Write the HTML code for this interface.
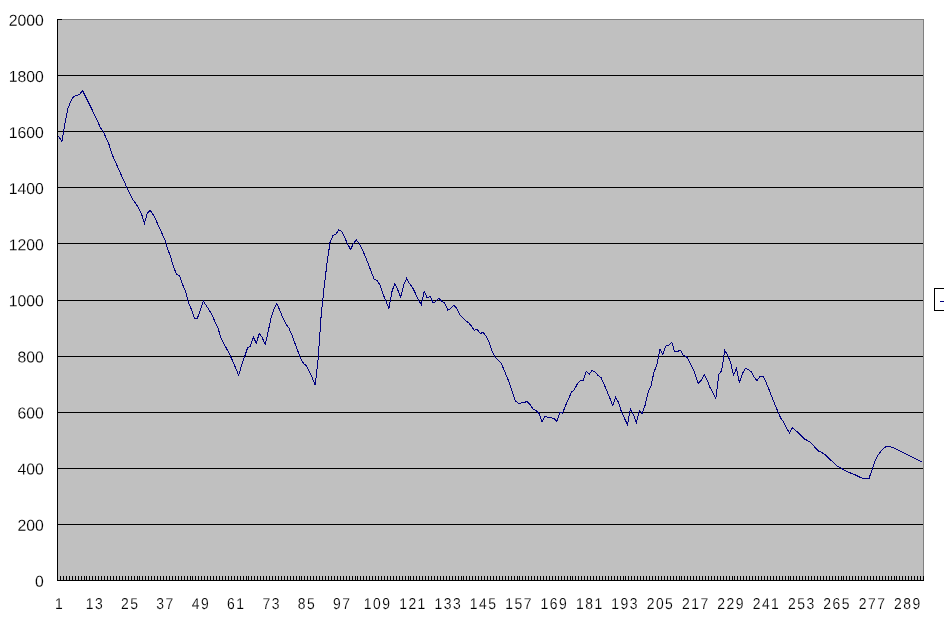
<!DOCTYPE html>
<html lang="ja"><head><meta charset="utf-8"><title>Chart</title>
<style>html,body{margin:0;padding:0;background:#fff;overflow:hidden}svg{display:block}text{font-family:"Liberation Sans", "IPAGothic", sans-serif;font-size:15.8px;fill:#000;stroke:#fff;stroke-width:0.15px}</style></head><body>
<svg width="944" height="622" viewBox="0 0 944 622">
<rect x="0" y="0" width="944" height="622" fill="#ffffff"/>
<g shape-rendering="crispEdges">
<rect x="57" y="19" width="867" height="562" fill="#c0c0c0"/>
<rect x="57" y="19" width="867" height="1" fill="#808080"/>
<rect x="923" y="19" width="1" height="562" fill="#808080"/>
<rect x="57" y="524" width="866" height="1" fill="#000"/>
<rect x="57" y="468" width="866" height="1" fill="#000"/>
<rect x="57" y="412" width="866" height="1" fill="#000"/>
<rect x="57" y="356" width="866" height="1" fill="#000"/>
<rect x="57" y="300" width="866" height="1" fill="#000"/>
<rect x="57" y="243" width="866" height="1" fill="#000"/>
<rect x="57" y="187" width="866" height="1" fill="#000"/>
<rect x="57" y="131" width="866" height="1" fill="#000"/>
<rect x="57" y="75" width="866" height="1" fill="#000"/>
<rect x="57" y="19" width="1" height="562" fill="#000"/>
<rect x="57" y="580" width="867" height="1" fill="#000"/>
<rect x="57" y="19" width="5" height="1" fill="#000"/>
<path d="M57 576h1v4h-1zM60 576h1v4h-1zM63 576h1v4h-1zM66 576h1v4h-1zM69 576h1v4h-1zM72 576h1v4h-1zM75 576h1v4h-1zM78 576h1v4h-1zM81 576h1v4h-1zM84 576h1v4h-1zM86 576h1v4h-1zM89 576h1v4h-1zM92 576h1v4h-1zM95 576h1v4h-1zM98 576h1v4h-1zM101 576h1v4h-1zM104 576h1v4h-1zM107 576h1v4h-1zM110 576h1v4h-1zM113 576h1v4h-1zM116 576h1v4h-1zM119 576h1v4h-1zM122 576h1v4h-1zM125 576h1v4h-1zM128 576h1v4h-1zM131 576h1v4h-1zM134 576h1v4h-1zM137 576h1v4h-1zM139 576h1v4h-1zM142 576h1v4h-1zM145 576h1v4h-1zM148 576h1v4h-1zM151 576h1v4h-1zM154 576h1v4h-1zM157 576h1v4h-1zM160 576h1v4h-1zM163 576h1v4h-1zM166 576h1v4h-1zM169 576h1v4h-1zM172 576h1v4h-1zM175 576h1v4h-1zM178 576h1v4h-1zM181 576h1v4h-1zM184 576h1v4h-1zM187 576h1v4h-1zM190 576h1v4h-1zM192 576h1v4h-1zM195 576h1v4h-1zM198 576h1v4h-1zM201 576h1v4h-1zM204 576h1v4h-1zM207 576h1v4h-1zM210 576h1v4h-1zM213 576h1v4h-1zM216 576h1v4h-1zM219 576h1v4h-1zM222 576h1v4h-1zM225 576h1v4h-1zM228 576h1v4h-1zM231 576h1v4h-1zM234 576h1v4h-1zM237 576h1v4h-1zM240 576h1v4h-1zM243 576h1v4h-1zM246 576h1v4h-1zM248 576h1v4h-1zM251 576h1v4h-1zM254 576h1v4h-1zM257 576h1v4h-1zM260 576h1v4h-1zM263 576h1v4h-1zM266 576h1v4h-1zM269 576h1v4h-1zM272 576h1v4h-1zM275 576h1v4h-1zM278 576h1v4h-1zM281 576h1v4h-1zM284 576h1v4h-1zM287 576h1v4h-1zM290 576h1v4h-1zM293 576h1v4h-1zM296 576h1v4h-1zM299 576h1v4h-1zM301 576h1v4h-1zM304 576h1v4h-1zM307 576h1v4h-1zM310 576h1v4h-1zM313 576h1v4h-1zM316 576h1v4h-1zM319 576h1v4h-1zM322 576h1v4h-1zM325 576h1v4h-1zM328 576h1v4h-1zM331 576h1v4h-1zM334 576h1v4h-1zM337 576h1v4h-1zM340 576h1v4h-1zM343 576h1v4h-1zM346 576h1v4h-1zM349 576h1v4h-1zM352 576h1v4h-1zM355 576h1v4h-1zM357 576h1v4h-1zM360 576h1v4h-1zM363 576h1v4h-1zM366 576h1v4h-1zM369 576h1v4h-1zM372 576h1v4h-1zM375 576h1v4h-1zM378 576h1v4h-1zM381 576h1v4h-1zM384 576h1v4h-1zM387 576h1v4h-1zM390 576h1v4h-1zM393 576h1v4h-1zM396 576h1v4h-1zM399 576h1v4h-1zM402 576h1v4h-1zM405 576h1v4h-1zM408 576h1v4h-1zM410 576h1v4h-1zM413 576h1v4h-1zM416 576h1v4h-1zM419 576h1v4h-1zM422 576h1v4h-1zM425 576h1v4h-1zM428 576h1v4h-1zM431 576h1v4h-1zM434 576h1v4h-1zM437 576h1v4h-1zM440 576h1v4h-1zM443 576h1v4h-1zM446 576h1v4h-1zM449 576h1v4h-1zM452 576h1v4h-1zM455 576h1v4h-1zM458 576h1v4h-1zM461 576h1v4h-1zM463 576h1v4h-1zM466 576h1v4h-1zM469 576h1v4h-1zM472 576h1v4h-1zM475 576h1v4h-1zM478 576h1v4h-1zM481 576h1v4h-1zM484 576h1v4h-1zM487 576h1v4h-1zM490 576h1v4h-1zM493 576h1v4h-1zM496 576h1v4h-1zM499 576h1v4h-1zM502 576h1v4h-1zM505 576h1v4h-1zM508 576h1v4h-1zM511 576h1v4h-1zM514 576h1v4h-1zM517 576h1v4h-1zM519 576h1v4h-1zM522 576h1v4h-1zM525 576h1v4h-1zM528 576h1v4h-1zM531 576h1v4h-1zM534 576h1v4h-1zM537 576h1v4h-1zM540 576h1v4h-1zM543 576h1v4h-1zM546 576h1v4h-1zM549 576h1v4h-1zM552 576h1v4h-1zM555 576h1v4h-1zM558 576h1v4h-1zM561 576h1v4h-1zM564 576h1v4h-1zM567 576h1v4h-1zM570 576h1v4h-1zM572 576h1v4h-1zM575 576h1v4h-1zM578 576h1v4h-1zM581 576h1v4h-1zM584 576h1v4h-1zM587 576h1v4h-1zM590 576h1v4h-1zM593 576h1v4h-1zM596 576h1v4h-1zM599 576h1v4h-1zM602 576h1v4h-1zM605 576h1v4h-1zM608 576h1v4h-1zM611 576h1v4h-1zM614 576h1v4h-1zM617 576h1v4h-1zM620 576h1v4h-1zM623 576h1v4h-1zM625 576h1v4h-1zM628 576h1v4h-1zM631 576h1v4h-1zM634 576h1v4h-1zM637 576h1v4h-1zM640 576h1v4h-1zM643 576h1v4h-1zM646 576h1v4h-1zM649 576h1v4h-1zM652 576h1v4h-1zM655 576h1v4h-1zM658 576h1v4h-1zM661 576h1v4h-1zM664 576h1v4h-1zM667 576h1v4h-1zM670 576h1v4h-1zM673 576h1v4h-1zM676 576h1v4h-1zM679 576h1v4h-1zM681 576h1v4h-1zM684 576h1v4h-1zM687 576h1v4h-1zM690 576h1v4h-1zM693 576h1v4h-1zM696 576h1v4h-1zM699 576h1v4h-1zM702 576h1v4h-1zM705 576h1v4h-1zM708 576h1v4h-1zM711 576h1v4h-1zM714 576h1v4h-1zM717 576h1v4h-1zM720 576h1v4h-1zM723 576h1v4h-1zM726 576h1v4h-1zM729 576h1v4h-1zM732 576h1v4h-1zM734 576h1v4h-1zM737 576h1v4h-1zM740 576h1v4h-1zM743 576h1v4h-1zM746 576h1v4h-1zM749 576h1v4h-1zM752 576h1v4h-1zM755 576h1v4h-1zM758 576h1v4h-1zM761 576h1v4h-1zM764 576h1v4h-1zM767 576h1v4h-1zM770 576h1v4h-1zM773 576h1v4h-1zM776 576h1v4h-1zM779 576h1v4h-1zM782 576h1v4h-1zM785 576h1v4h-1zM788 576h1v4h-1zM790 576h1v4h-1zM793 576h1v4h-1zM796 576h1v4h-1zM799 576h1v4h-1zM802 576h1v4h-1zM805 576h1v4h-1zM808 576h1v4h-1zM811 576h1v4h-1zM814 576h1v4h-1zM817 576h1v4h-1zM820 576h1v4h-1zM823 576h1v4h-1zM826 576h1v4h-1zM829 576h1v4h-1zM832 576h1v4h-1zM835 576h1v4h-1zM838 576h1v4h-1zM841 576h1v4h-1zM843 576h1v4h-1zM846 576h1v4h-1zM849 576h1v4h-1zM852 576h1v4h-1zM855 576h1v4h-1zM858 576h1v4h-1zM861 576h1v4h-1zM864 576h1v4h-1zM867 576h1v4h-1zM870 576h1v4h-1zM873 576h1v4h-1zM876 576h1v4h-1zM879 576h1v4h-1zM882 576h1v4h-1zM885 576h1v4h-1zM888 576h1v4h-1zM891 576h1v4h-1zM894 576h1v4h-1zM896 576h1v4h-1zM899 576h1v4h-1zM902 576h1v4h-1zM905 576h1v4h-1zM908 576h1v4h-1zM911 576h1v4h-1zM914 576h1v4h-1zM917 576h1v4h-1zM920 576h1v4h-1zM923 576h1v4h-1z" fill="#000"/>
</g>
<polyline points="58.0,136.2 59.0,137.0 61.9,141.4 64.9,123.2 67.8,108.9 70.8,101.4 73.7,96.4 76.6,95.5 79.6,94.4 82.5,90.4 85.5,96.5 88.4,102.4 91.4,108.3 94.3,114.4 97.3,120.8 100.2,127.2 103.2,131.4 106.1,137.9 109.0,144.4 112.0,154.2 114.9,160.8 117.9,167.4 120.8,174.0 123.8,180.6 126.7,187.3 129.7,193.7 132.6,199.5 135.6,203.1 138.5,208.2 141.4,213.4 144.4,223.5 147.3,213.3 150.3,210.3 153.2,214.7 156.2,220.7 159.1,227.2 162.1,233.7 165.0,240.2 168.0,249.7 170.9,257.8 173.9,268.1 176.8,274.4 179.7,275.8 182.7,284.7 185.6,291.8 188.6,302.8 191.5,309.7 194.5,318.2 197.4,318.2 200.4,309.9 203.3,301.1 206.3,305.8 209.2,310.0 212.1,315.3 215.1,321.8 218.0,328.3 221.0,338.0 223.9,343.9 226.9,349.2 229.8,354.8 232.8,361.3 235.7,368.1 238.7,375.6 241.6,364.9 244.5,357.0 247.5,348.0 250.4,346.0 253.4,337.2 256.3,343.2 259.3,333.3 262.2,337.6 265.2,344.5 268.1,331.9 271.1,317.5 274.0,309.2 276.9,303.5 279.9,310.7 282.8,317.7 285.8,323.9 288.7,327.6 291.7,334.5 294.6,342.5 297.6,350.4 300.5,358.2 303.5,363.4 306.4,365.9 309.3,371.8 312.3,377.9 315.2,385.3 318.2,358.1 321.1,316.3 324.1,287.1 327.0,263.5 330.0,242.6 332.9,235.8 335.9,233.9 338.8,229.9 341.7,231.5 344.7,237.6 347.6,244.1 350.6,249.5 353.5,243.3 356.5,240.1 359.4,243.6 362.4,249.9 365.3,256.5 368.3,264.0 371.2,271.5 374.1,279.1 377.1,280.6 380.0,284.8 383.0,294.0 385.9,301.0 388.9,308.6 391.8,292.1 394.8,283.3 397.7,289.8 400.7,297.3 403.6,285.4 406.6,278.3 409.5,283.6 412.4,287.2 415.4,293.3 418.3,300.0 421.3,304.4 424.2,291.3 427.2,298.0 430.1,296.1 433.1,303.1 436.0,301.1 439.0,298.3 441.9,301.6 444.8,303.2 447.8,310.1 450.7,308.6 453.7,305.3 456.6,308.0 459.6,314.5 462.5,317.7 465.5,320.4 468.4,322.6 471.4,326.1 474.3,330.2 477.2,329.2 480.2,333.6 483.1,332.2 486.1,336.2 489.0,342.3 492.0,351.2 494.9,356.7 497.9,359.7 500.8,362.7 503.8,369.3 506.7,376.3 509.6,383.3 512.6,393.1 515.5,400.9 518.5,403.5 521.4,402.9 524.4,402.3 527.3,401.5 530.3,405.0 533.2,409.2 536.2,410.6 539.1,413.6 542.0,421.5 545.0,416.5 547.9,417.3 550.9,417.9 553.8,418.3 556.8,421.5 559.7,412.8 562.7,413.1 565.6,405.3 568.6,398.8 571.5,392.2 574.4,389.5 577.4,383.9 580.3,380.9 583.3,380.1 586.2,371.4 589.2,374.3 592.1,370.3 595.1,372.2 598.0,375.3 601.0,377.5 603.9,383.8 606.9,390.9 609.8,398.0 612.7,405.5 615.7,397.4 618.6,402.7 621.6,412.4 624.5,418.4 627.5,424.5 630.4,408.8 633.4,414.4 636.3,422.4 639.3,410.4 642.2,413.5 645.1,405.2 648.1,392.2 651.0,385.9 654.0,371.9 656.9,364.9 659.9,349.3 662.8,354.4 665.8,346.0 668.7,345.6 671.7,342.3 674.6,351.4 677.5,351.4 680.5,350.2 683.4,355.5 686.4,356.6 689.3,361.4 692.3,367.2 695.2,374.2 698.2,383.5 701.1,380.5 704.1,374.7 707.0,379.7 709.9,387.2 712.9,392.7 715.8,398.3 718.8,374.4 721.7,370.5 724.7,350.2 727.6,355.0 730.6,362.6 733.5,375.2 736.5,368.4 739.4,382.3 742.3,373.9 745.3,368.4 748.2,369.7 751.2,371.7 754.1,376.9 757.1,380.9 760.0,376.0 763.0,376.4 765.9,381.9 768.9,389.3 771.8,396.6 774.7,403.9 777.7,411.2 780.6,417.9 783.6,422.1 786.5,428.2 789.5,432.6 792.4,427.9 795.4,430.4 798.3,432.8 801.3,435.7 804.2,438.8 807.1,440.4 810.1,441.9 813.0,444.8 816.0,448.6 818.9,451.2 821.9,452.6 824.8,454.3 827.8,457.2 830.7,460.0 833.7,462.9 836.6,465.7 839.6,467.4 842.5,469.0 845.4,470.6 848.4,472.2 851.3,473.3 854.3,474.4 857.2,475.9 860.2,477.4 863.1,478.5 866.1,478.5 869.0,478.5 872.0,469.9 874.9,460.9 877.8,455.3 880.8,451.4 883.7,448.2 886.7,446.3 889.6,446.5 892.6,447.4 895.5,448.9 898.5,450.4 901.4,451.8 904.4,453.3 907.3,454.8 910.2,456.2 913.2,457.7 916.1,459.2 919.1,460.6 922.0,462.2" fill="none" stroke="#000080" stroke-width="1" shape-rendering="crispEdges"/>
<text transform="translate(43.8 586.8) rotate(0.05)" text-anchor="end">0</text>
<text transform="translate(43.8 530.7) rotate(0.05)" text-anchor="end">200</text>
<text transform="translate(43.8 474.6) rotate(0.05)" text-anchor="end">400</text>
<text transform="translate(43.8 418.5) rotate(0.05)" text-anchor="end">600</text>
<text transform="translate(43.8 362.4) rotate(0.05)" text-anchor="end">800</text>
<text transform="translate(43.8 306.3) rotate(0.05)" text-anchor="end">1000</text>
<text transform="translate(43.8 250.2) rotate(0.05)" text-anchor="end">1200</text>
<text transform="translate(43.8 194.1) rotate(0.05)" text-anchor="end">1400</text>
<text transform="translate(43.8 138.0) rotate(0.05)" text-anchor="end">1600</text>
<text transform="translate(43.8 81.9) rotate(0.05)" text-anchor="end">1800</text>
<text transform="translate(43.8 25.8) rotate(0.05)" text-anchor="end">2000</text>
<text transform="translate(59.6 609) rotate(0.05) scale(0.88 1)" text-anchor="middle" letter-spacing="1.7">1</text>
<text transform="translate(94.9 609) rotate(0.05) scale(0.88 1)" text-anchor="middle" letter-spacing="1.7">13</text>
<text transform="translate(130.3 609) rotate(0.05) scale(0.88 1)" text-anchor="middle" letter-spacing="1.7">25</text>
<text transform="translate(165.6 609) rotate(0.05) scale(0.88 1)" text-anchor="middle" letter-spacing="1.7">37</text>
<text transform="translate(201.0 609) rotate(0.05) scale(0.88 1)" text-anchor="middle" letter-spacing="1.7">49</text>
<text transform="translate(236.3 609) rotate(0.05) scale(0.88 1)" text-anchor="middle" letter-spacing="1.7">61</text>
<text transform="translate(271.7 609) rotate(0.05) scale(0.88 1)" text-anchor="middle" letter-spacing="1.7">73</text>
<text transform="translate(307.0 609) rotate(0.05) scale(0.88 1)" text-anchor="middle" letter-spacing="1.7">85</text>
<text transform="translate(342.3 609) rotate(0.05) scale(0.88 1)" text-anchor="middle" letter-spacing="1.7">97</text>
<text transform="translate(377.7 609) rotate(0.05) scale(0.88 1)" text-anchor="middle" letter-spacing="1.7">109</text>
<text transform="translate(413.0 609) rotate(0.05) scale(0.88 1)" text-anchor="middle" letter-spacing="1.7">121</text>
<text transform="translate(448.4 609) rotate(0.05) scale(0.88 1)" text-anchor="middle" letter-spacing="1.7">133</text>
<text transform="translate(483.7 609) rotate(0.05) scale(0.88 1)" text-anchor="middle" letter-spacing="1.7">145</text>
<text transform="translate(519.1 609) rotate(0.05) scale(0.88 1)" text-anchor="middle" letter-spacing="1.7">157</text>
<text transform="translate(554.4 609) rotate(0.05) scale(0.88 1)" text-anchor="middle" letter-spacing="1.7">169</text>
<text transform="translate(589.8 609) rotate(0.05) scale(0.88 1)" text-anchor="middle" letter-spacing="1.7">181</text>
<text transform="translate(625.1 609) rotate(0.05) scale(0.88 1)" text-anchor="middle" letter-spacing="1.7">193</text>
<text transform="translate(660.5 609) rotate(0.05) scale(0.88 1)" text-anchor="middle" letter-spacing="1.7">205</text>
<text transform="translate(695.8 609) rotate(0.05) scale(0.88 1)" text-anchor="middle" letter-spacing="1.7">217</text>
<text transform="translate(731.2 609) rotate(0.05) scale(0.88 1)" text-anchor="middle" letter-spacing="1.7">229</text>
<text transform="translate(766.5 609) rotate(0.05) scale(0.88 1)" text-anchor="middle" letter-spacing="1.7">241</text>
<text transform="translate(801.9 609) rotate(0.05) scale(0.88 1)" text-anchor="middle" letter-spacing="1.7">253</text>
<text transform="translate(837.2 609) rotate(0.05) scale(0.88 1)" text-anchor="middle" letter-spacing="1.7">265</text>
<text transform="translate(872.6 609) rotate(0.05) scale(0.88 1)" text-anchor="middle" letter-spacing="1.7">277</text>
<text transform="translate(907.9 609) rotate(0.05) scale(0.88 1)" text-anchor="middle" letter-spacing="1.7">289</text>
<g shape-rendering="crispEdges">
<rect x="934.5" y="288.5" width="30" height="22" fill="#fff" stroke="#000" stroke-width="1"/>
<rect x="940" y="301" width="10" height="1" fill="#000080"/>
</g>
</svg></body></html>
